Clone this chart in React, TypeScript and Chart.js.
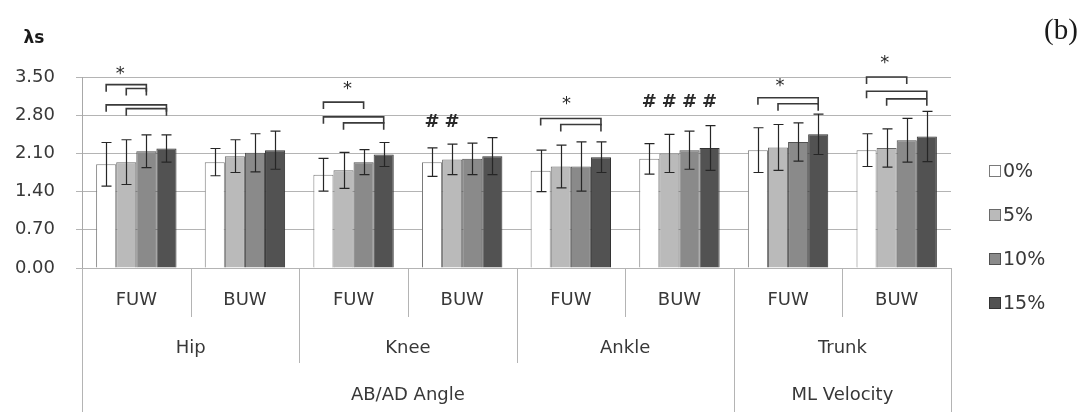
import React, { useEffect, useRef } from "react";
import { Chart, registerables } from "chart.js";

Chart.register(...registerables);

// ---------- data ----------
const subCategories = ["FUW", "BUW", "FUW", "BUW", "FUW", "BUW", "FUW", "BUW"];
const jointGroups = ["Hip", "Knee", "Ankle", "Trunk"]; // each spans 2 sub-categories
const measureGroups = ["AB/AD Angle", "ML Velocity"];
const measureSpans = [6, 2];
const seriesLabels = ["0%", "5%", "10%", "15%"];
const yTicks = [0, 0.7, 1.4, 2.1, 2.8, 3.5];

const mean0 = [1.9, 1.94, 1.71, 1.94, 1.78, 2.0, 2.16, 2.16];
const mean5 = [1.94, 2.05, 1.79, 1.99, 1.86, 2.1, 2.21, 2.2];
const mean10 = [2.14, 2.11, 1.94, 2.0, 1.86, 2.16, 2.31, 2.34];
const mean15 = [2.19, 2.16, 2.08, 2.05, 2.03, 2.2, 2.45, 2.41];

const sd0 = [0.4, 0.25, 0.3, 0.26, 0.38, 0.28, 0.41, 0.3];
const sd5 = [0.41, 0.3, 0.33, 0.28, 0.39, 0.35, 0.42, 0.35];
const sd10 = [0.3, 0.35, 0.23, 0.29, 0.45, 0.35, 0.35, 0.4];
const sd15 = [0.25, 0.35, 0.22, 0.34, 0.28, 0.41, 0.37, 0.46];

// significance brackets: [category index, from series, to series, y value]
const brackets = [
  [0, 0, 2, 3.36],
  [0, 1, 2, 3.29],
  [0, 0, 3, 2.99],
  [0, 1, 3, 2.92],
  [2, 0, 2, 3.04],
  [2, 0, 3, 2.77],
  [2, 1, 3, 2.66],
  [4, 0, 3, 2.74],
  [4, 1, 3, 2.63],
  [6, 0, 3, 3.12],
  [6, 1, 3, 3.01],
  [7, 0, 2, 3.5],
  [7, 0, 3, 3.24],
  [7, 1, 3, 3.1],
];

// marks: [category index, series position, text, y value]
const marks: [number, number, string, number][] = [
  [0, 0.7, "*", 3.62],
  [2, 1.2, "*", 3.35],
  [4, 1.28, "*", 3.07],
  [6, 1.1, "*", 3.41],
  [7, 0.9, "*", 3.82],
  [3, 0, "#", 2.67],
  [3, 1, "#", 2.67],
  [5, 0, "#", 3.04],
  [5, 1, "#", 3.04],
  [5, 2, "#", 3.04],
  [5, 3, "#", 3.04],
];

const means = [mean0, mean5, mean10, mean15];
const sds = [sd0, sd5, sd10, sd15];
const fills = ["#ffffff", "#bababa", "#8a8a8a", "#525252"];
const borders = ["#7a7a7a", "#6a6a6a", "#505050", "#333333"];

const FONT = "'DejaVu Sans', sans-serif";
const TEXT = "#383838";
const LINE = "#b4b4b4";

const decorPlugin = {
  id: "excelDecor",
  afterDatasetsDraw(chart: any) {
    const ctx = chart.ctx;
    const y = chart.scales.y;
    ctx.save();
    ctx.strokeStyle = "#262626";
    ctx.lineWidth = 1.2;
    sds.forEach((sdArr, di) => {
      const meta = chart.getDatasetMeta(di);
      meta.data.forEach((bar: any, i: number) => {
        const m = means[di][i];
        const s = sdArr[i];
        const yt = y.getPixelForValue(m + s);
        const yb = y.getPixelForValue(m - s);
        const x = Math.round(bar.x) + 0.5;
        ctx.beginPath();
        ctx.moveTo(x, yt);
        ctx.lineTo(x, yb);
        ctx.moveTo(x - 5, yt);
        ctx.lineTo(x + 5, yt);
        ctx.moveTo(x - 5, yb);
        ctx.lineTo(x + 5, yb);
        ctx.stroke();
      });
    });
    ctx.restore();
  },
  afterDraw(chart: any) {
    const ctx = chart.ctx;
    const x = chart.scales.x;
    const y = chart.scales.y;
    const area = chart.chartArea;
    const H = chart.height;
    const barX = (cat: number, pos: number) => {
      const m0 = chart.getDatasetMeta(0).data[cat];
      const m1 = chart.getDatasetMeta(1).data[cat];
      const step = m1.x - m0.x;
      return m0.x + pos * step;
    };
    ctx.save();

    // brackets
    ctx.strokeStyle = "#3a3a3a";
    ctx.lineWidth = 1.6;
    brackets.forEach(([cat, a, b, v]) => {
      const x1 = barX(cat, a);
      const x2 = barX(cat, b);
      const yy = y.getPixelForValue(v);
      ctx.beginPath();
      ctx.moveTo(x1, yy + 7);
      ctx.lineTo(x1, yy);
      ctx.lineTo(x2, yy);
      ctx.lineTo(x2, yy + 7);
      ctx.stroke();
    });

    // marks
    ctx.fillStyle = "#2a2a2a";
    ctx.textAlign = "center";
    ctx.textBaseline = "middle";
    marks.forEach(([cat, pos, txt, v]) => {
      const px = barX(cat, pos);
      const py = y.getPixelForValue(v) + (txt === "*" ? 4 : 0);
      ctx.font = txt === "#" ? `bold 18px ${FONT}` : `18px ${FONT}`;
      ctx.fillText(txt, px, py);
    });

    // multi-level category axis
    const n = subCategories.length;
    const centers = subCategories.map((_, i) => x.getPixelForValue(i));
    const half = (centers[1] - centers[0]) / 2;
    const bottom = area.bottom;
    ctx.strokeStyle = LINE;
    ctx.lineWidth = 1;
    const vline = (px: number, y2: number) => {
      const xx = Math.round(px) + 0.5;
      ctx.beginPath();
      ctx.moveTo(xx, bottom);
      ctx.lineTo(xx, y2);
      ctx.stroke();
    };
    vline(area.left, H);
    vline(area.right, H);
    let acc = 0;
    const measureEnds = measureSpans.map((s) => (acc += s));
    for (let i = 0; i < n - 1; i++) {
      const bx = centers[i] + half;
      let end = 317;
      if (measureEnds.includes(i + 1)) end = H;
      else if ((i + 1) % 2 === 0) end = 363;
      vline(bx, end);
    }

    ctx.fillStyle = TEXT;
    ctx.font = `18px ${FONT}`;
    subCategories.forEach((lab, i) => ctx.fillText(lab, centers[i], 300));
    jointGroups.forEach((lab, g) => {
      const cx = (centers[2 * g] + centers[2 * g + 1]) / 2;
      ctx.fillText(lab, cx, 348);
    });
    let start = 0;
    measureGroups.forEach((lab, g) => {
      const endIdx = start + measureSpans[g] - 1;
      const cx = (centers[start] - half + centers[endIdx] + half) / 2;
      ctx.fillText(lab, cx, 395);
      start += measureSpans[g];
    });

    // legend
    seriesLabels.forEach((lab, i) => {
      const cy = 171 + i * 44;
      ctx.fillStyle = fills[i];
      ctx.fillRect(989, cy - 6, 12, 12);
      ctx.strokeStyle = borders[i];
      ctx.lineWidth = 1;
      ctx.strokeRect(989.5, cy - 5.5, 11, 11);
      ctx.fillStyle = TEXT;
      ctx.textAlign = "left";
      ctx.font = `19px ${FONT}`;
      ctx.fillText(lab, 1003, cy + 1);
    });

    // axis title and panel label
    ctx.textAlign = "center";
    ctx.fillStyle = "#1a1a1a";
    ctx.font = `bold 17px ${FONT}`;
    ctx.fillText("λs", 34, 39);
    ctx.font = "29px 'Liberation Serif', serif";
    ctx.fillText("(b)", 1061, 31);

    ctx.restore();
  },
};

export default function App() {
  const ref = useRef<HTMLCanvasElement | null>(null);
  useEffect(() => {
    if (!ref.current) return;
    const chart = new Chart(ref.current, {
      type: "bar",
      data: {
        labels: subCategories,
        datasets: seriesLabels.map((lab, i) => ({
          label: lab,
          data: means[i],
          backgroundColor: fills[i],
          borderColor: borders[i],
          borderWidth: 1,
          categoryPercentage: 0.74,
          barPercentage: 1.0,
        })),
      },
      options: {
        animation: false,
        responsive: true,
        maintainAspectRatio: false,
        layout: { padding: { left: 0, right: 135, top: 77, bottom: 144 } },
        plugins: { legend: { display: false }, tooltip: { enabled: false } },
        scales: {
          x: { display: false },
          y: {
            min: 0,
            max: 3.5,
            afterBuildTicks: (scale: any) => {
              scale.ticks = yTicks.map((v) => ({ value: v }));
            },
            afterFit: (scale: any) => {
              scale.width = 82;
            },
            grid: { color: LINE, tickLength: 6, drawTicks: true },
            border: { display: true, color: "#a8a8a8" },
            ticks: {
              padding: 21,
              color: TEXT,
              font: { family: "'DejaVu Sans', sans-serif", size: 18 },
              callback: (v: any) => Number(v).toFixed(2),
            },
          },
        },
      },
      plugins: [decorPlugin],
    });
    return () => chart.destroy();
  }, []);
  return (
    <div style={{ position: "absolute", left: 0, top: 0, width: 1086, height: 412, background: "#fff" }}>
      <canvas ref={ref} />
    </div>
  );
}
